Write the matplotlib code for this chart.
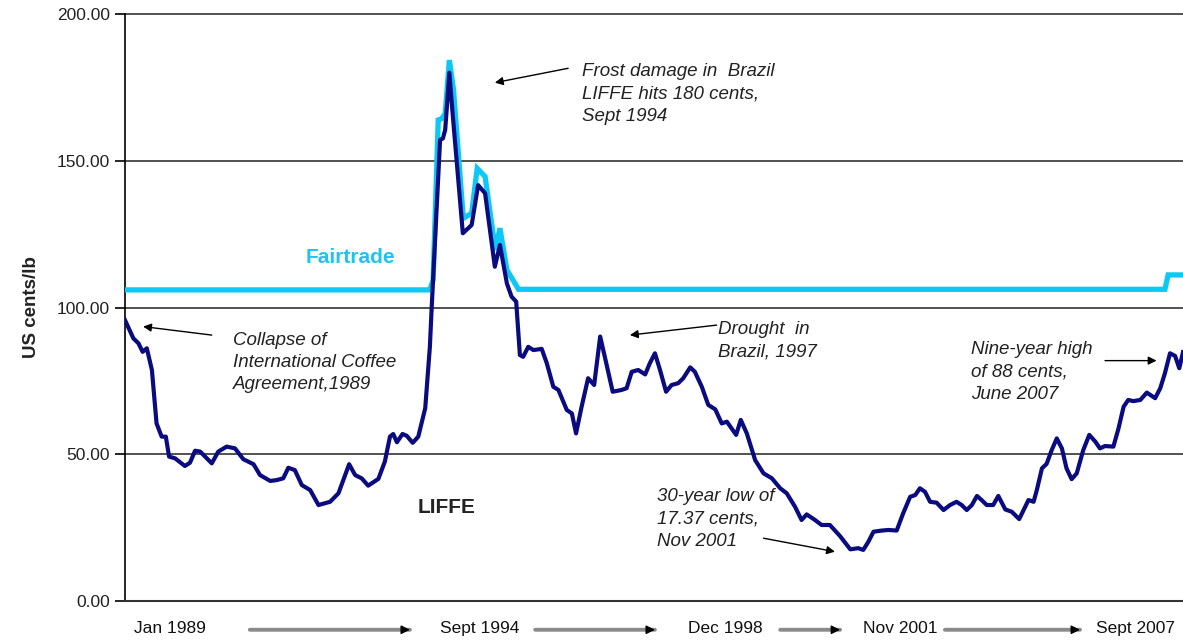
import matplotlib
matplotlib.use("Agg")
import matplotlib.pyplot as plt

plt.rcParams['font.family'] = ['Liberation Sans', 'DejaVu Sans']

# months since Jan 1989
liffe_month = [0, 1.8, 2.9, 3.8, 4.7, 5.8, 6.8, 7.9, 8.8, 9.5, 10.8, 12.9, 14.0, 15.1, 16.2,
               18.7, 20.1, 21.9, 23.7, 25.5, 27.7, 29.1, 31.3, 32.7, 34.1, 35.2, 36.6, 38.1,
               39.9, 41.7, 44.2, 46.0, 48.3, 49.6, 51.0, 52.4, 54.6, 56.0, 57.1, 57.8, 58.6,
               59.8, 60.7, 62.0, 63.2, 64.7, 65.7, 66.1, 67.9, 68.5, 69.0, 69.9, 70.5, 72.8,
               74.7, 76.1, 77.6, 79.7, 80.8, 82.3, 83.3, 84.3, 85.1, 85.8, 86.9, 88.0, 89.8,
               90.9, 92.3, 93.4, 95.2, 96.3, 97.2, 98.4, 99.8, 101.1, 102.4, 103.4, 105.1,
               107.0, 108.1, 109.2, 110.6, 112.1, 113.1, 114.2, 115.3, 116.6, 117.8, 119.2,
               120.3, 121.8, 122.8, 124.3, 125.7, 127.2, 128.6, 129.7, 131.7, 132.7, 134.0,
               135.8, 137.6, 139.4, 141.2, 142.6, 144.4, 145.8, 146.9, 148.7, 150.1, 151.9,
               154.1, 156.3, 158.0, 159.1, 160.2, 161.3, 163.1, 164.5, 166.3, 167.7, 169.2,
               170.3, 171.3, 172.4, 173.5, 174.9, 176.4, 177.8, 179.2, 180.3, 181.4, 182.5,
               183.6, 184.6, 185.7, 187.1, 188.2, 189.7, 191.1, 192.7, 194.0, 194.7, 195.8,
               196.5, 197.6, 198.6, 199.7, 200.8, 201.9, 202.9, 204.0, 205.1, 206.5, 207.8,
               209.1, 210.1, 211.2, 213.0, 214.1, 215.2, 216.2, 217.3, 218.8, 220.2, 222.0,
               223.1, 224.1, 225.2, 226.3, 227.2, 228.0]
liffe_value = [95.7, 89.5, 87.8, 84.9, 86.1, 78.7, 60.5, 56.0, 56.0, 49.2, 48.6, 46.0, 47.1, 51.2, 50.9,
               46.9, 50.9, 52.6, 52.0, 48.3, 46.6, 42.9, 40.9, 41.2, 41.8, 45.4, 44.6, 39.5,
               37.8, 32.7, 33.8, 36.7, 46.6, 42.9, 41.8, 39.3, 41.6, 47.5, 56.0, 56.9, 54.1,
               56.9, 56.3, 53.9, 56.0, 65.7, 86.6, 100.3, 157.1, 157.6, 160.5, 180.0, 168.0, 125.3,
               128.1, 141.7, 138.9, 113.9, 121.3, 108.2, 103.7, 102.0, 83.8, 83.2, 86.6, 85.5, 85.9,
               81.0, 73.0, 71.9, 65.1, 63.9, 57.1, 66.2, 75.9, 73.6, 90.1, 83.2, 71.3,
               71.9, 72.5, 78.1, 78.7, 77.2, 81.0, 84.4, 78.7, 71.3, 73.6, 74.2,
               75.9, 79.6, 78.1, 73.0, 66.8, 65.3, 60.5, 61.1, 56.6, 61.7, 57.1,
               48.0, 43.5, 41.8, 38.4, 36.7, 32.1, 27.6, 29.5, 27.6, 25.9, 25.9,
               22.1, 17.6, 18.0, 17.4, 20.2, 23.6, 24.0, 24.2, 24.0, 29.9, 35.5,
               36.1, 38.4, 37.2, 33.8, 33.5, 31.0, 32.7, 33.8, 32.7, 31.0, 32.7,
               35.8, 34.4, 32.7, 32.7, 35.8, 31.2, 30.4, 27.9, 32.1, 34.4, 33.8,
               37.8, 45.2, 46.7, 51.4, 55.4, 52.0, 45.2, 41.5, 43.5, 51.4, 56.6,
               54.3, 52.0, 52.8, 52.6, 58.8, 66.2, 68.5, 68.1, 68.5, 71.0, 69.1,
               72.5, 77.6, 84.4, 83.5, 79.3, 84.8]

fair_month = [0, 65.7, 66.4, 67.5, 68.2, 69.0, 69.9, 70.8, 72.9, 74.7, 75.9, 77.6, 79.8, 80.8,
              82.3, 84.8, 224.1, 224.8, 228.0]
fair_value = [106.0, 106.0, 109.4, 163.9, 164.3, 166.0, 184.3, 174.1, 130.4, 132.1, 147.4, 144.6,
              119.6, 127.0, 112.8, 106.2, 106.2, 111.1, 111.1]

yticks = [0, 50, 100, 150, 200]
date_labels = ["Jan 1989", "Sept 1994", "Dec 1998", "Nov 2001", "Sept 2007"]
date_label_pos = [9.7, 76.5, 129.3, 167.0, 217.7]
date_arrows = [(26.9, 61.4), (88.4, 114.2), (141.2, 154.1), (176.7, 205.8)]

fig = plt.figure(figsize=(11.83, 6.41), dpi=100)
ax = fig.add_axes([125/1183, 1-601/641, 1-125/1183, (601-14)/641])

ax.plot(fair_month, fair_value, color='#0CC8F5', lw=3.8, solid_joinstyle='miter', zorder=3)
ax.plot(liffe_month, liffe_value, color='#0B0B80', lw=3.0, zorder=4)

ax.set_xlim(0, 228)
ax.set_ylim(0, 200)
ax.set_yticks(yticks)
ax.set_yticklabels([f"{v:.2f}" for v in yticks], fontsize=12.5, color='#222')
for v in yticks[1:]:
    ax.axhline(v, color='#333333', lw=1.2, zorder=1, clip_on=False)
ax.set_xticks([])
for s in ['top', 'right']:
    ax.spines[s].set_visible(False)
ax.spines['left'].set_linewidth(1.2)
ax.spines['bottom'].set_linewidth(1.5)
ax.spines['bottom'].set_color('#333')
ax.tick_params(axis='y', length=7, width=1.2, pad=4)
ax.set_ylabel("US cents/lb", fontsize=13.5, fontweight='bold', labelpad=12, color='#222')

trans = ax.get_xaxis_transform()
for lab, pos in zip(date_labels, date_label_pos):
    ax.text(pos, -0.046, lab, transform=trans, ha='center', va='center', fontsize=12.5, color='#111')
for a, b in date_arrows:
    ax.annotate('', xy=(b, -0.049), xytext=(a, -0.049), xycoords=trans, textcoords=trans,
                arrowprops=dict(arrowstyle='-', color='#8a8a8a', lw=2.8, shrinkA=0, shrinkB=0),
                annotation_clip=False)
    ax.annotate('', xy=(b, -0.049), xytext=(b - 1.5, -0.049), xycoords=trans, textcoords=trans,
                arrowprops=dict(arrowstyle='-|>', color='black', lw=1, mutation_scale=13,
                                shrinkA=0, shrinkB=0),
                annotation_clip=False)

ann = dict(fontsize=13.5, style='italic', color='#222', ha='left', va='top', linespacing=1.42)
arr = dict(arrowstyle='-|>', color='black', lw=1, mutation_scale=12, shrinkA=0, shrinkB=0)

ax.text(23.3, 91.8, "Collapse of\nInternational Coffee\nAgreement,1989", **ann)
ax.annotate('', xy=(3.9, 93.5), xytext=(18.7, 90.6), arrowprops=arr)

ax.text(98.5, 183.3, "Frost damage in  Brazil\nLIFFE hits 180 cents,\nSept 1994", **ann)
ax.annotate('', xy=(79.7, 176.6), xytext=(95.5, 181.5), arrowprops=arr)

ax.text(127.8, 95.5, "Drought  in\nBrazil, 1997", **ann)
ax.annotate('', xy=(108.8, 90.6), xytext=(127.5, 94.0), arrowprops=arr)

ax.text(114.6, 38.4, "30-year low of\n17.37 cents,\nNov 2001", **ann)
ax.annotate('', xy=(153.0, 16.8), xytext=(137.6, 21.4), arrowprops=arr)

ax.text(182.3, 88.7, "Nine-year high\nof 88 cents,\nJune 2007", **ann)
ax.annotate('', xy=(222.3, 81.9), xytext=(211.2, 81.9), arrowprops=arr)

ax.text(48.5, 116.9, "Fairtrade", fontsize=15, fontweight='bold', color='#1EC3F2',
        ha='center', va='center')
ax.text(69.2, 32.0, "LIFFE", fontsize=15, fontweight='bold', color='#222',
        ha='center', va='center')

fig.savefig("out.png", dpi=100)
